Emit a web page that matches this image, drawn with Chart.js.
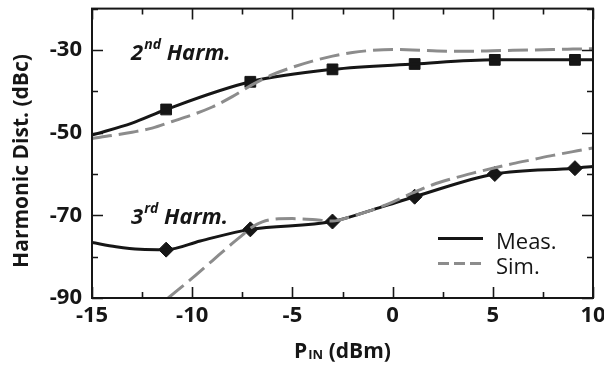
<!DOCTYPE html>
<html>
<head>
<meta charset="utf-8">
<script src="https://cdn.jsdelivr.net/npm/chart.js@4"></script>
<style>
  html, body { margin: 0; padding: 0; background: #fff; }
  #c { display: block; }
</style>
</head>
<body>
<canvas id="c" width="604" height="368"></canvas>
<script>
// ---------------- DATA ----------------
const xLabelValues = [-15, -10, -5, 0, 5, 10];
const yLabelValues = [-30, -50, -70, -90];

// 2nd harmonic – measured curve and its markers
const meas2X = [-15, -13, -11.3, -7.1, -3.0, 1.1, 5.1, 9.1, 10];
const meas2Y = [-50.6, -47.7, -44.4, -37.7, -34.7, -33.4, -32.4, -32.4, -32.4];
const mark2X = [-11.3, -7.1, -3.0, 1.1, 5.1, 9.1];
const mark2Y = [-44.4, -37.7, -34.7, -33.4, -32.4, -32.4];

// 2nd harmonic – simulated
const sim2X = [-15, -14, -13, -12, -11, -10, -9, -8, -7, -6, -5, -4, -3, -2, -1, 0, 1, 2, 3, 4, 5, 6, 7, 8, 9, 10];
const sim2Y = [-51.4, -50.7, -49.9, -48.9, -47.3, -45.7, -43.8, -41.3, -38.4, -36.0, -34.2, -32.7, -31.5, -30.6, -30.1, -29.9, -30.0, -30.2, -30.3, -30.3, -30.2, -30.1, -30.0, -29.9, -29.8, -29.7];

// 3rd harmonic – measured curve and its markers
const meas3X = [-15, -13.8, -12.6, -11.3, -9.6, -7.1, -3.0, -0.5, 1.1, 5.1, 9.1, 10];
const meas3Y = [-76.6, -77.6, -78.2, -78.3, -76.2, -73.4, -71.5, -67.9, -65.5, -60.0, -58.6, -58.2];
const mark3X = [-11.3, -7.1, -3.0, 1.1, 5.1, 9.1];
const mark3Y = [-78.3, -73.4, -71.5, -65.5, -60.0, -58.6];

// 3rd harmonic – simulated
const sim3X = [-11.2, -10, -9, -8, -7.5, -7, -6.5, -6, -5, -4, -3, -2, -1, 0, 1, 2, 3, 4, 5, 6, 7, 8, 9, 10];
const sim3Y = [-90, -85.2, -81.0, -76.8, -74.8, -72.8, -71.6, -71.0, -70.8, -71.0, -71.4, -70.2, -68.7, -66.8, -64.6, -62.6, -61.1, -59.8, -58.6, -57.5, -56.5, -55.5, -54.6, -53.7];

const seriesLabels = ['Meas.', 'Sim.'];
const harmLabels = [['2', 'nd', ' Harm.'], ['3', 'rd', ' Harm.']];
const xTitle = ['P', 'IN', ' (dBm)'];
const yTitle = 'Harmonic Dist. (dBc)';
// ----------------------------------------------------------------

const pts = (xs, ys) => xs.map((x, i) => ({ x, y: ys[i] }));
const INK = '#161616';
const SIMC = '#8c8c8c';
const FONT = '"Open Sans", "DejaVu Sans", sans-serif';

const lineDs = (data, color, dash) => ({
  data, showLine: true, borderColor: color, borderWidth: 3,
  borderDash: dash || [], pointRadius: 0, cubicInterpolationMode: 'monotone', fill: false
});
const markDs = (data, style, r) => ({
  data, showLine: false, pointStyle: style, pointRadius: r,
  pointBackgroundColor: INK, pointBorderColor: INK, pointBorderWidth: 1
});

const decor = {
  id: 'decor',
  afterDatasetsDraw(chart) {
    const { ctx, chartArea: a, scales: { x, y } } = chart;
    ctx.save();
    // frame
    ctx.strokeStyle = INK;
    ctx.lineWidth = 2;
    ctx.strokeRect(a.left, a.top, a.right - a.left, a.bottom - a.top);
    // inward ticks
    ctx.lineWidth = 1.6;
    ctx.beginPath();
    x.ticks.forEach(t => {
      const px = Math.round(x.getPixelForValue(t.value)) + 0.5;
      const L = xLabelValues.includes(t.value) ? 11 : 6;
      ctx.moveTo(px, a.bottom); ctx.lineTo(px, a.bottom - L);
      ctx.moveTo(px, a.top); ctx.lineTo(px, a.top + L);
    });
    y.ticks.forEach(t => {
      const py = Math.round(y.getPixelForValue(t.value)) + 0.5;
      const L = yLabelValues.includes(t.value) ? 11 : 6;
      ctx.moveTo(a.left, py); ctx.lineTo(a.left + L, py);
      ctx.moveTo(a.right, py); ctx.lineTo(a.right - L, py);
    });
    ctx.stroke();

    // harmonic annotations
    ctx.fillStyle = INK;
    ctx.textBaseline = 'alphabetic';
    const drawSup = (parts, px, py) => {
      ctx.font = 'italic bold 22px ' + FONT;
      ctx.fillText(parts[0], px, py);
      let cx = px + ctx.measureText(parts[0]).width + 1;
      ctx.font = 'italic bold 14px ' + FONT;
      ctx.fillText(parts[1], cx, py - 11);
      cx += ctx.measureText(parts[1]).width;
      ctx.font = 'italic bold 22px ' + FONT;
      ctx.fillText(parts[2], cx, py);
    };
    drawSup(harmLabels[0], x.getPixelForValue(-13.05), y.getPixelForValue(-32.4));
    drawSup(harmLabels[1], x.getPixelForValue(-13.05), y.getPixelForValue(-72.0));

    // legend
    const lx = a.right - 155, ly1 = a.top + 230, ly2 = a.top + 255;
    ctx.lineWidth = 3;
    ctx.strokeStyle = INK; ctx.setLineDash([]);
    ctx.beginPath(); ctx.moveTo(lx, ly1); ctx.lineTo(lx + 45, ly1); ctx.stroke();
    ctx.strokeStyle = SIMC; ctx.setLineDash([11, 5]);
    ctx.beginPath(); ctx.moveTo(lx, ly2); ctx.lineTo(lx + 45, ly2); ctx.stroke();
    ctx.setLineDash([]);
    ctx.font = '22px ' + FONT;
    ctx.fillStyle = INK;
    ctx.fillText(seriesLabels[0], lx + 58, ly1 + 10);
    ctx.fillText(seriesLabels[1], lx + 58, ly2 + 10);

    // x title with subscript
    const big = 'bold 21px ' + FONT, small = 'bold 13px ' + FONT;
    ctx.font = big; const w0 = ctx.measureText(xTitle[0]).width;
    ctx.font = small; const w1 = ctx.measureText(xTitle[1]).width;
    ctx.font = big; const w2 = ctx.measureText(xTitle[2]).width;
    const tw = w0 + w1 + w2 + 1;
    let tx = (a.left + a.right) / 2 - tw / 2;
    const ty = 358;
    ctx.font = big; ctx.fillText(xTitle[0], tx, ty); tx += w0 + 1;
    ctx.font = small; ctx.fillText(xTitle[1], tx, ty + 1); tx += w1;
    ctx.font = big; ctx.fillText(xTitle[2], tx, ty);

    // y title rotated
    ctx.save();
    ctx.translate(22, 161);
    ctx.rotate(-Math.PI / 2);
    ctx.textAlign = 'center';
    ctx.textBaseline = 'middle';
    ctx.font = 'bold 21px ' + FONT;
    ctx.fillText(yTitle, 0, 0);
    ctx.restore();

    ctx.restore();
  }
};

new Chart(document.getElementById('c'), {
  type: 'scatter',
  data: {
    datasets: [
      lineDs(pts(sim2X, sim2Y), SIMC, [20, 7]),
      lineDs(pts(sim3X, sim3Y), SIMC, [20, 7]),
      lineDs(pts(meas2X, meas2Y), INK),
      lineDs(pts(meas3X, meas3Y), INK),
      markDs(pts(mark2X, mark2Y), 'rect', 7.6),
      markDs(pts(mark3X, mark3Y), 'rectRot', 7.5)
    ]
  },
  options: {
    responsive: false,
    animation: false,
    devicePixelRatio: 1,
    layout: { padding: { top: 8, right: 11, left: 0, bottom: 0 } },
    plugins: { legend: { display: false }, tooltip: { enabled: false } },
    scales: {
      x: {
        type: 'linear', min: -15, max: 10,
        grid: { display: false, drawTicks: false },
        border: { display: false },
        ticks: {
          stepSize: 2.5, autoSkip: false, maxRotation: 0, padding: 5,
          color: INK, font: { family: FONT, size: 22, weight: 'bold' },
          callback: v => xLabelValues.includes(v) ? String(v) : ''
        },
        afterFit: s => { s.height = 70; s.paddingLeft = 0; s.paddingRight = 0; }
      },
      y: {
        type: 'linear', min: -90, max: -20,
        grid: { display: false, drawTicks: false },
        border: { display: false },
        ticks: {
          stepSize: 10, autoSkip: false, padding: 10,
          color: INK, font: { family: FONT, size: 22, weight: 'bold' },
          callback: v => yLabelValues.includes(v) ? String(v) : ''
        },
        afterFit: s => { s.width = 92; s.paddingTop = 0; s.paddingBottom = 0; }
      }
    }
  },
  plugins: [decor]
});
</script>
</body>
</html>
